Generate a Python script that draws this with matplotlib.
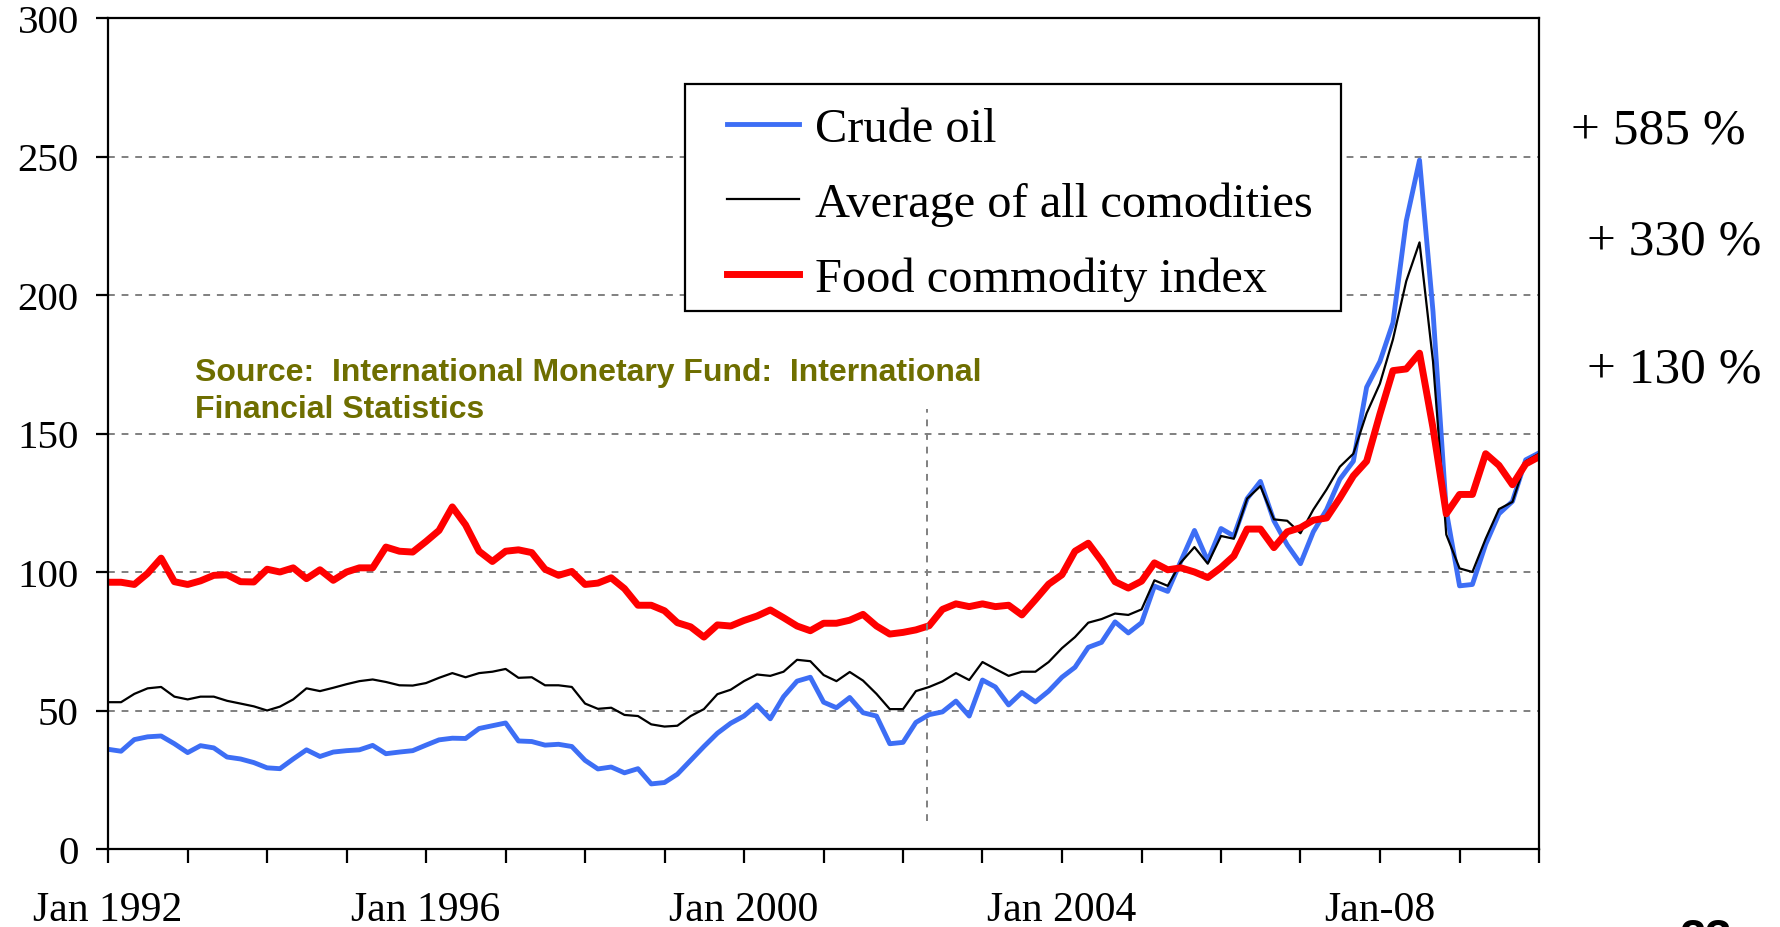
import numpy as np
import pandas as pd
import matplotlib
matplotlib.use("Agg")
import matplotlib.pyplot as plt
import matplotlib.dates as mdates
from matplotlib.lines import Line2D
from matplotlib.patches import Rectangle

# ------------------------------------------------------------------
# data (bi-monthly index values, Jan 1992 - Jan 2010)
# ------------------------------------------------------------------
crude_oil = [36, 35.3, 39.5, 40.5, 40.8, 38.0, 34.8, 37.3, 36.5, 33.2, 32.5, 31.2,
             29.3, 29.0, 32.5, 35.8, 33.4, 35.0, 35.5, 35.8, 37.4, 34.4, 35.0, 35.5,
             37.5, 39.4, 40.0, 39.9, 43.5, 44.5, 45.5, 39.0, 38.8, 37.5, 37.8, 37.0,
             32.0, 28.9, 29.6, 27.5, 29.0, 23.5, 24.0, 27.0, 32.0, 37.0, 41.8, 45.4,
             48.0, 52.0, 47.0, 55.0, 60.6, 62.0, 53.0, 51.0, 54.7, 49.2, 48.0, 38.0,
             38.5, 45.7, 48.5, 49.5, 53.4, 48.0, 61.0, 58.5, 52.0, 56.5, 53.1, 57.0,
             62.0, 65.6, 72.8, 74.6, 82.0, 78.0, 81.7, 94.9, 93.0, 104.0, 115.0, 104.0,
             115.7, 113.0, 126.5, 132.7, 118.5, 109.8, 103.0, 114.5, 122.5, 133.5, 140.0, 166.7,
             176.0, 190.0, 226.7, 248.7, 194.0, 122.0, 95.0, 95.5, 110.0, 121.0, 125.5, 140.5,
             143.0]

all_commod = [53, 53, 56, 58, 58.5, 55, 54, 55, 55, 53.5, 52.5, 51.5,
              50, 51.4, 54, 58, 57, 58.2, 59.5, 60.6, 61.2, 60.3, 59.1, 59.0,
              59.9, 61.8, 63.5, 62.0, 63.5, 64, 65, 61.8, 62.0, 59.1, 59.1, 58.5,
              52.5, 50.6, 51.0, 48.4, 48.0, 45, 44.2, 44.5, 48, 50.5, 55.9, 57.5,
              60.6, 63.0, 62.5, 64, 68.3, 67.8, 62.8, 60.6, 63.9, 60.8, 56, 50.5,
              50.5, 57, 58.5, 60.5, 63.5, 61, 67.5, 65, 62.5, 64, 64, 67.5,
              72.5, 76.5, 81.7, 83, 85, 84.5, 86.5, 97, 95, 103.5, 109, 103,
              113, 112, 126.5, 131, 119, 118.5, 114, 122.5, 129.8, 138, 142.7, 157.3,
              168, 184, 205, 219, 176, 113.5, 101.3, 100, 112, 122.7, 125.3, 140,
              142.7]

food_index = [96.3, 96.3, 95.5, 99.5, 105, 96.5, 95.5, 96.8, 98.8, 99, 96.5, 96.4,
              101, 100, 101.5, 97.6, 100.8, 97, 100, 101.5, 101.5, 109, 107.5, 107.2,
              111, 115, 123.5, 117, 107.5, 103.8, 107.5, 108, 107, 101, 98.8, 100.2,
              95.5, 96, 97.9, 94, 88, 88, 86, 81.7, 80.2, 76.5, 80.9, 80.5,
              82.5, 84.1, 86.3, 83.5, 80.5, 78.8, 81.5, 81.5, 82.6, 84.7, 80.5, 77.6,
              78.2, 79.1, 80.6, 86.5, 88.5, 87.5, 88.5, 87.5, 88, 84.5, 90, 95.6,
              99, 107.5, 110.4, 104, 96.5, 94.2, 96.7, 103.3, 100.8, 101.5, 100, 98,
              101.6, 105.8, 115.5, 115.5, 108.8, 114.5, 116, 118.7, 119.5, 126.7, 134.7, 140,
              157, 172.7, 173.3, 179, 152, 121, 128, 128, 142.7, 138.5, 131.5, 139,
              141.6]

dates = pd.date_range("1992-01-01", periods=len(food_index), freq="2MS")

series_labels = ["Crude oil", "Average of all comodities", "Food commodity index"]
series_colors = ["#3D6EF5", "#000000", "#FF0000"]
series_widths = [3.5, 1.6, 5.0]

tick_text = {1992: "Jan 1992", 1996: "Jan 1996", 2000: "Jan 2000",
             2004: "Jan 2004", 2008: "Jan-08"}
pct_labels = ["+ 585 %", "+ 330 %", "+ 130 %"]
source_lines = ["Source:  International Monetary Fund:  International",
                "Financial Statistics"]
marker_date = pd.Timestamp("2002-04-20")
marker_range = (10, 159)

# ------------------------------------------------------------------
# figure
# ------------------------------------------------------------------
W, H = 1781, 928
serif = "Liberation Serif"
plt.rcParams["font.family"] = serif

fig = plt.figure(figsize=(W / 100, H / 100), dpi=100)
ax = fig.add_axes([108 / W, 1 - 850 / H, (1539 - 108) / W, (850 - 19) / H])

for vals, c, lw in zip([crude_oil, all_commod, food_index], series_colors, series_widths):
    ax.plot(dates, vals, color=c, linewidth=lw, solid_joinstyle="round")

ax.set_xlim(pd.Timestamp("1992-01-01"), pd.Timestamp("2010-01-01"))
ax.set_ylim(0, 300)
ax.set_yticks(np.arange(0, 301, 50))
ax.yaxis.grid(True, color="#808080", linestyle=(0, (3.5, 3.5)), linewidth=1.4)
ax.set_axisbelow(True)

ax.xaxis.set_major_locator(mdates.YearLocator(1))
ax.xaxis.set_major_formatter(plt.FuncFormatter(
    lambda v, pos: tick_text.get(mdates.num2date(v).year, "")))

ax.tick_params(axis="x", direction="out", length=10, width=1.6, labelsize=30, pad=20)
ax.tick_params(axis="y", direction="out", length=9, width=1.6, labelsize=29.5, pad=12)
for s in ax.spines.values():
    s.set_linewidth(1.6)
    s.set_color("black")

# vertical reference line
ax.plot([marker_date, marker_date], marker_range, color="#808080",
        linestyle=(0, (3.5, 3.5)), linewidth=1.4)

# legend box (drawn by hand to match the slide)
ax.add_patch(Rectangle((685 / W, 1 - 312 / H), (1341 - 685) / W, (312 - 85) / H,
                       transform=fig.transFigure, facecolor="white", edgecolor="black",
                       linewidth=1.6, zorder=5, clip_on=False))
for k, (lab, c, lw) in enumerate(zip(series_labels, series_colors, series_widths)):
    yy = 1 - (125 + 75 * k) / H
    ax.add_line(Line2D([727 / W, 799 / W], [yy, yy], transform=fig.transFigure,
                       color=c, linewidth=lw, zorder=6, clip_on=False))
    fig.text(815 / W, yy, lab, fontsize=34.8, va="center_baseline", ha="left", zorder=7)

# source note
for k, line in enumerate(source_lines):
    fig.text(195 / W, 1 - (373 + 37 * k) / H, line, fontsize=23,
             family="Liberation Sans", fontweight="bold", color="#6E6E00",
             va="center", ha="left")

# percentage changes
for lab, (px, py) in zip(pct_labels, [(1571, 131), (1587, 242), (1587, 370)]):
    fig.text(px / W, 1 - py / H, lab, fontsize=37, va="center", ha="left")

# slide number, mostly cut off at the bottom edge
fig.text(1679 / W, 1 - 918 / H, "23", fontsize=34, family="Liberation Sans",
         fontweight="bold", va="top", ha="left")

fig.savefig("out.png", dpi=100, facecolor="white")
